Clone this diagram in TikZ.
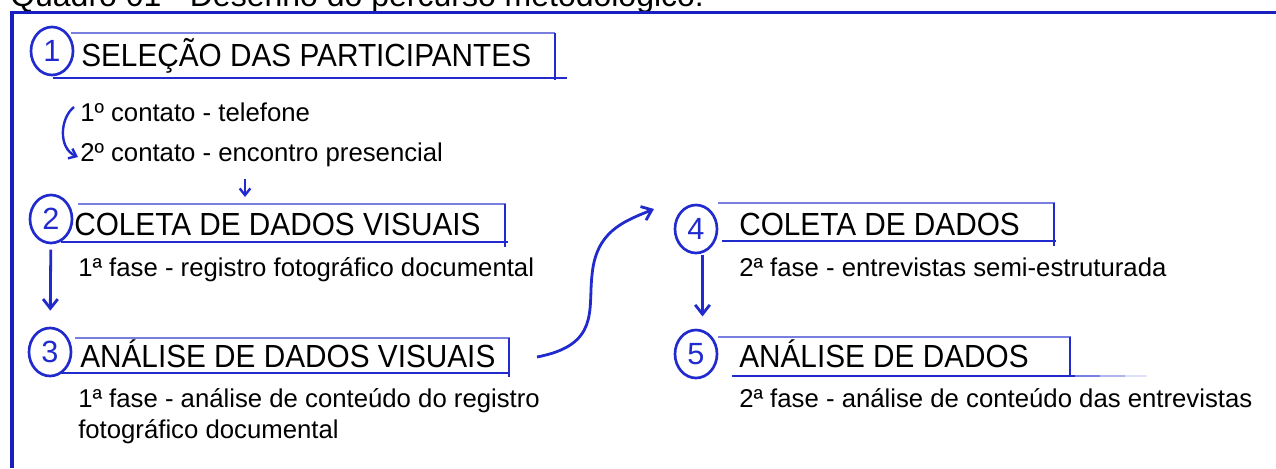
\documentclass[tikz,border=0pt]{standalone}
\usepackage{fontspec}
\setmainfont{Liberation Sans}
\newfontfamily\headfont[FakeStretch=0.93]{Liberation Sans}
\usetikzlibrary{arrows.meta,calc,shapes.geometric}
\definecolor{penblue}{RGB}{32,42,205}
\definecolor{linblue}{RGB}{25,30,190}
\begin{document}
\begin{tikzpicture}[x=0.75pt,y=-0.75pt,
  heading/.style={anchor=base west,inner sep=0pt,font=\headfont\fontsize{24}{28}\selectfont},
  sub/.style={anchor=base west,inner sep=0pt,font=\fontsize{19.3}{23}\selectfont},
  numc/.style={ellipse,draw=penblue,line width=2pt,text=penblue,inner sep=0pt,minimum width=31.5pt,minimum height=36pt,font=\fontsize{23}{23}\selectfont},
  boxtop/.style={draw=penblue!60,line width=1.4pt},
  boxside/.style={draw=penblue,line width=1.6pt},
  boxbot/.style={draw=penblue,line width=2.2pt},
  flow/.style={draw=penblue,line width=2.1pt,-{Straight Barb[length=7pt,width=11pt,line width=2.1pt]}},
  smallflow/.style={draw=penblue,line width=1.8pt,-{Straight Barb[length=5pt,width=8pt,line width=1.8pt]}},
]
\useasboundingbox (0,0) rectangle (1276,468);
\clip (0,0) rectangle (1276,468);

% title and frame
\node[anchor=base west,inner sep=0pt,font=\fontsize{24}{28}\selectfont] (title) at (10,6) {Quadro 01 - Desenho do percurso metodológico.};
\draw[linblue,line width=2.5pt] (10,12.5) -- (1276,12.5);
\draw[linblue,line width=2.5pt] (12,12) -- (12,468);

% step 1
\draw[boxtop] (71,33) -- (555,33);
\draw[boxside] (555,33) -- (555,80);
\draw[boxbot] (53,78) -- (567,78);
\node[numc] (c1) at (52,51) {1};
\node[heading] (h1) at (81,66) {SELEÇÃO DAS PARTICIPANTES};
\node[sub] (s1a) at (80,121) {1º contato - telefone};
\node[sub] (s1b) at (80,161) {2º contato - encontro presencial};

% step 2
\draw[boxtop] (78,204) -- (506,204);
\draw[boxside] (505,204) -- (505,247);
\draw[boxbot] (61,242) -- (508,242);
\node[numc] (c2) at (51,219) {2};
\node[heading] (h2) at (74,235) {COLETA DE DADOS VISUAIS};
\node[sub] (s2) at (78,276) {1ª fase - registro fotográfico documental};

% step 3
\draw[boxtop] (75,338) -- (510,338);
\draw[boxside] (509,338) -- (509,377);
\draw[boxbot] (61,373) -- (510,373);
\node[numc] (c3) at (50,352) {3};
\node[heading] (h3) at (80,367) {ANÁLISE DE DADOS VISUAIS};
\node[sub] (s3a) at (78,407) {1ª fase - análise de conteúdo do registro};
\node[sub] (s3b) at (78,438) {fotográfico documental};

% step 4
\draw[boxtop] (718,203) -- (1055,203);
\draw[boxside] (1054,203) -- (1054,246);
\draw[boxbot] (722,241) -- (1056,241);
\node[numc] (c4) at (696,229) {4};
\node[heading] (h4) at (739,235) {COLETA DE DADOS};
\node[sub] (s4) at (739,276) {2ª fase - entrevistas semi-estruturada};

% step 5
\draw[boxtop] (718,337) -- (1071,337);
\draw[boxside] (1070,337) -- (1070,377);
\draw[boxbot] (732,376) -- (1075,376);
\draw[boxbot,draw=penblue!60] (1075,376) -- (1100,376);
\draw[boxbot,draw=penblue!35] (1100,376) -- (1125,376);
\draw[boxbot,draw=penblue!15] (1125,376) -- (1147,376);
\node[numc] (c5) at (696,354) {5};
\node[heading] (h5) at (739,367) {ANÁLISE DE DADOS};
\node[sub] (s5) at (739,407) {2ª fase - análise de conteúdo das entrevistas};

% connectors
\coordinate (a1s) at (74,107);
\coordinate (a1e) at (78,157);
\draw[smallflow] (a1s) .. controls (60,118) and (58,148) .. (a1e);

\coordinate (a2s) at (245,179);
\coordinate (a2e) at (245,197);
\draw[smallflow] (a2s) -- (a2e);

\draw[flow,shorten <=4pt,shorten >=12pt] (c2) -- (c3);
\draw[flow,shorten <=1pt,shorten >=10pt] (c4.-75) -- (c5.75);

\coordinate (a5s) at (537,357);
\coordinate (a5e) at (654,209);
\draw[flow] (a5s) .. controls (600,345) and (588,310) .. (592,275)
  .. controls (596,232) and (622,222) .. (a5e);
\end{tikzpicture}
\end{document}
